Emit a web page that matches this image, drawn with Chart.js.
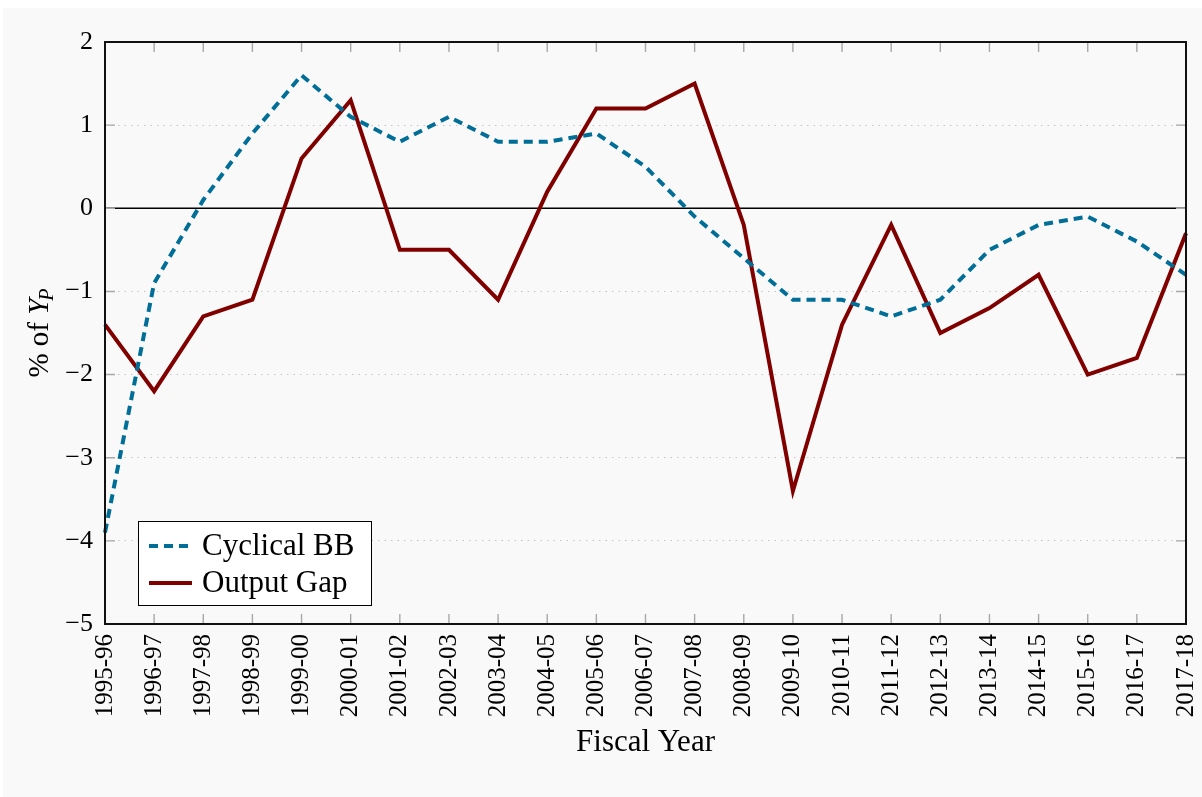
<!DOCTYPE html>
<html>
<head>
<meta charset="utf-8">
<title>Cyclical budget balance and output gap</title>
<script src="https://cdn.jsdelivr.net/npm/chart.js@4.4.1/dist/chart.umd.min.js"></script>
<style>
  html, body { margin: 0; padding: 0; background: #fff; }
  #wrap { width: 1202px; height: 797px; }
</style>
</head>
<body>
<div id="wrap"><canvas id="gapChart" width="1202" height="797"></canvas></div>
<script>
const fiscalYears = [
  '1995-96', '1996-97', '1997-98', '1998-99', '1999-00', '2000-01',
  '2001-02', '2002-03', '2003-04', '2004-05', '2005-06', '2006-07',
  '2007-08', '2008-09', '2009-10', '2010-11', '2011-12', '2012-13',
  '2013-14', '2014-15', '2015-16', '2016-17', '2017-18'
];

// both series in % of potential output
const cyclicalBB = [
  -3.9, -0.9, 0.1, 0.9, 1.6, 1.1, 0.8, 1.1, 0.8, 0.8, 0.9, 0.5,
  -0.1, -0.6, -1.1, -1.1, -1.3, -1.1, -0.5, -0.2, -0.1, -0.4, -0.8
];
const outputGap = [
  -1.4, -2.2, -1.3, -1.1, 0.6, 1.3, -0.5, -0.5, -1.1, 0.2, 1.2, 1.2,
  1.5, -0.2, -3.4, -1.4, -0.2, -1.5, -1.2, -0.8, -2.0, -1.8, -0.3
];

const yMin = -5;
const yMax = 2;

const SERIF = '"Liberation Serif", "Times New Roman", serif';
const minusSign = v => String(v).replace('-', '\u2212');

// light grey panel behind everything
const panel = {
  id: 'panel',
  beforeDraw(chart) {
    const { ctx, width, height } = chart;
    ctx.save();
    ctx.fillStyle = '#ffffff';
    ctx.fillRect(0, 0, width, height);
    ctx.fillStyle = '#f9f9f9';
    ctx.fillRect(3, 8, width - 3, height - 8);
    ctx.restore();
  }
};

// solid zero line under the series
const zeroLine = {
  id: 'zeroLine',
  beforeDatasetsDraw(chart) {
    const { ctx, chartArea, scales } = chart;
    const y = scales.y.getPixelForValue(0);
    ctx.save();
    ctx.strokeStyle = '#000';
    ctx.lineWidth = 1.6;
    ctx.beginPath();
    ctx.moveTo(chartArea.left, y);
    ctx.lineTo(chartArea.right, y);
    ctx.stroke();
    ctx.restore();
  }
};

// box frame with inward tick marks on all four sides
const frame = {
  id: 'frame',
  afterDatasetsDraw(chart) {
    const { ctx, chartArea: a, scales } = chart;
    const len = 10;
    ctx.save();
    ctx.strokeStyle = '#a8a8a8';
    ctx.lineWidth = 1.4;
    ctx.beginPath();
    scales.x.ticks.forEach((t, i) => {
      const px = scales.x.getPixelForTick(i);
      ctx.moveTo(px, a.top); ctx.lineTo(px, a.top + len);
      ctx.moveTo(px, a.bottom); ctx.lineTo(px, a.bottom - len);
    });
    scales.y.ticks.forEach(t => {
      const py = scales.y.getPixelForValue(t.value);
      ctx.moveTo(a.left, py); ctx.lineTo(a.left + len, py);
      ctx.moveTo(a.right, py); ctx.lineTo(a.right - len, py);
    });
    ctx.stroke();
    ctx.strokeStyle = '#111';
    ctx.lineWidth = 2;
    ctx.strokeRect(a.left, a.top, a.right - a.left, a.bottom - a.top);
    ctx.restore();
  }
};

// framed legend in the lower left of the plot
const boxLegend = {
  id: 'boxLegend',
  afterDraw(chart) {
    const { ctx, chartArea: a } = chart;
    const x0 = a.left + 33, y0 = a.bottom - 103, w = 233, h = 84;
    ctx.save();
    ctx.fillStyle = '#fff';
    ctx.fillRect(x0, y0, w, h);
    ctx.strokeStyle = '#000';
    ctx.lineWidth = 1;
    ctx.strokeRect(x0 + 0.5, y0 + 0.5, w, h);
    ctx.font = '31px ' + SERIF;
    ctx.textBaseline = 'alphabetic';
    ctx.fillStyle = '#000';
    chart.data.datasets.forEach((ds, i) => {
      const rowY = y0 + 25 + i * 37;
      ctx.strokeStyle = ds.borderColor;
      ctx.lineWidth = ds.borderWidth;
      ctx.setLineDash(ds.borderDash || []);
      ctx.beginPath();
      ctx.moveTo(x0 + 11, rowY);
      ctx.lineTo(x0 + 54, rowY);
      ctx.stroke();
      ctx.setLineDash([]);
      ctx.fillText(ds.label, x0 + 64, rowY + 9);
    });
    ctx.restore();
  }
};

// axis titles; the y title carries an italic Y with subscript P
const axisTitles = {
  id: 'axisTitles',
  afterDraw(chart) {
    const { ctx, chartArea: a } = chart;
    ctx.save();
    ctx.fillStyle = '#000';
    ctx.textBaseline = 'alphabetic';

    ctx.font = '31px ' + SERIF;
    ctx.textAlign = 'center';
    ctx.fillText('Fiscal Year', (a.left + a.right) / 2, 751);

    const main = '% of ';
    const regular = '29px ' + SERIF;
    const italic = 'italic 29px ' + SERIF;
    const sub = 'italic 20px ' + SERIF;
    ctx.textAlign = 'left';
    ctx.font = regular; const w1 = ctx.measureText(main).width;
    ctx.font = italic; const w2 = ctx.measureText('Y').width;
    ctx.font = sub; const w3 = ctx.measureText('P').width;
    const total = w1 + w2 + w3 - 2;
    ctx.translate(48, (a.top + a.bottom) / 2);
    ctx.rotate(-Math.PI / 2);
    let x = -total / 2;
    ctx.font = regular; ctx.fillText(main, x, 0); x += w1;
    ctx.font = italic; ctx.fillText('Y', x, 0); x += w2 - 2;
    ctx.font = sub; ctx.fillText('P', x, 5);
    ctx.restore();
  }
};

new Chart(document.getElementById('gapChart'), {
  type: 'line',
  data: {
    labels: fiscalYears,
    datasets: [
      {
        label: 'Cyclical BB',
        data: cyclicalBB,
        borderColor: '#006e96',
        borderWidth: 4,
        borderDash: [9, 6],
        borderCapStyle: 'butt',
        pointRadius: 0,
        tension: 0,
        fill: false
      },
      {
        label: 'Output Gap',
        data: outputGap,
        borderColor: '#800000',
        borderWidth: 4,
        pointRadius: 0,
        tension: 0,
        fill: false
      }
    ]
  },
  options: {
    responsive: false,
    animation: false,
    devicePixelRatio: 1,
    layout: { padding: { top: 42, right: 16, left: 0, bottom: 0 } },
    plugins: {
      legend: { display: false },
      tooltip: { enabled: false }
    },
    scales: {
      x: {
        type: 'category',
        offset: false,
        grid: { display: false },
        border: { display: false },
        ticks: {
          autoSkip: false,
          maxRotation: 90,
          minRotation: 90,
          padding: 2,
          color: '#000',
          font: { family: SERIF, size: 25 }
        },
        afterFit(scale) {
          scale.height = 173;
          scale.paddingLeft = 0;
          scale.paddingRight = 0;
        }
      },
      y: {
        min: yMin,
        max: yMax,
        grid: {
          color: '#c4c4c4',
          lineWidth: 1,
          drawTicks: false
        },
        border: { display: false, dash: [1.5, 5] },
        ticks: {
          stepSize: 1,
          padding: 12,
          color: '#000',
          font: { family: SERIF, size: 26 },
          callback: v => minusSign(v)
        },
        afterFit(scale) { scale.width = 105; }
      }
    }
  },
  plugins: [panel, zeroLine, frame, boxLegend, axisTitles]
});
</script>
</body>
</html>
